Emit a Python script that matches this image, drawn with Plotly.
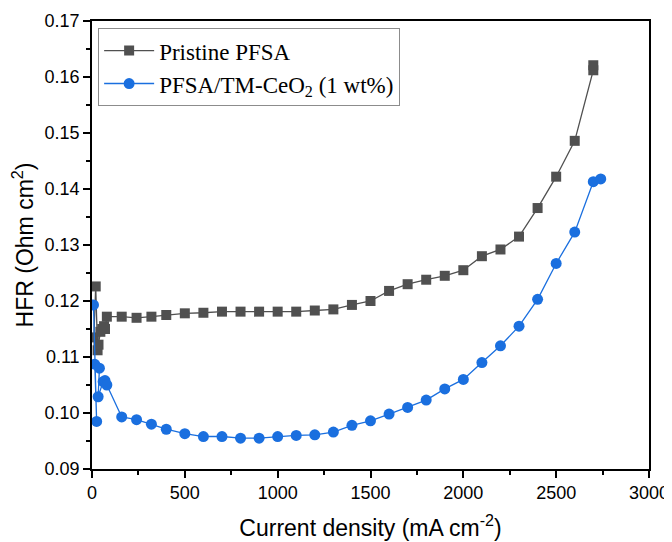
import plotly.graph_objects as go

# Pristine PFSA
x_pristine = [10, 20, 30, 35, 45, 55, 65, 70, 80, 160, 240, 320, 400, 500, 600, 700, 800, 900,
              1000, 1100, 1200, 1300, 1400, 1500, 1600, 1700, 1800, 1900, 2000, 2100, 2200,
              2300, 2400, 2500, 2600, 2700, 2700]
y_pristine = [0.1135, 0.1226, 0.1112, 0.1122, 0.1145, 0.1150, 0.1155, 0.1150, 0.1172, 0.1172,
              0.1170, 0.1172, 0.1175, 0.1178, 0.1179, 0.1181, 0.1181, 0.1181, 0.1181, 0.1181,
              0.1183, 0.1185, 0.1193, 0.1200, 0.1218, 0.1230, 0.1238, 0.1245, 0.1255, 0.1280,
              0.1292, 0.1315, 0.1366, 0.1422, 0.1486, 0.1612, 0.1621]

# PFSA/TM-CeO2 (1 wt%)
x_ceo2 = [8, 25, 15, 40, 33, 60, 70, 80, 160, 240, 320, 400, 500, 600, 700, 800, 900, 1000,
          1100, 1200, 1300, 1400, 1500, 1600, 1700, 1800, 1900, 2000, 2100, 2200, 2300, 2400,
          2500, 2600, 2700, 2740]
y_ceo2 = [0.1193, 0.0985, 0.1087, 0.1080, 0.1029, 0.1056, 0.1058, 0.1050, 0.0993, 0.0988,
          0.0980, 0.0971, 0.0963, 0.0958, 0.0958, 0.0955, 0.0955, 0.0958, 0.0960, 0.0961,
          0.0966, 0.0978, 0.0986, 0.0998, 0.1010, 0.1023, 0.1043, 0.1060, 0.1090, 0.1120,
          0.1155, 0.1203, 0.1267, 0.1323, 0.1413, 0.1418]

x_ticks = [0, 500, 1000, 1500, 2000, 2500, 3000]
y_ticks = [0.09, 0.10, 0.11, 0.12, 0.13, 0.14, 0.15, 0.16, 0.17]
y_ticklabels = ["0.09", "0.10", "0.11", "0.12", "0.13", "0.14", "0.15", "0.16", "0.17"]

grey = "#505050"
blue = "#1a6fdf"

fig = go.Figure()
fig.add_trace(go.Scatter(
    x=x_pristine, y=y_pristine, mode="lines+markers", name="Pristine PFSA",
    line=dict(color=grey, width=1.3),
    marker=dict(symbol="square", size=10, color=grey),
))
fig.add_trace(go.Scatter(
    x=x_ceo2, y=y_ceo2, mode="lines+markers", name="PFSA/TM-CeO<sub>2</sub> (1 wt%)",
    line=dict(color=blue, width=1.3),
    marker=dict(symbol="circle", size=11, color=blue),
))

axis_font = dict(family="Liberation Sans, Arial, sans-serif", size=18, color="black")
title_font = dict(family="Liberation Sans, Arial, sans-serif", size=23, color="black")

# page body has an 8px default margin, so the figure is 8px smaller than the window
fig.update_layout(
    width=664, height=534,
    margin=dict(l=84, r=23, t=13, b=73),
    paper_bgcolor="white", plot_bgcolor="white",
    showlegend=True,
    legend=dict(
        x=0.011, y=0.984, xanchor="left", yanchor="top",
        bgcolor="white", bordercolor="#8c8c8c", borderwidth=1,
        font=dict(family="Liberation Serif, Times New Roman, serif", size=23, color="black"),
        tracegroupgap=0, itemsizing="trace", itemwidth=50,
    ),
    xaxis=dict(
        range=[0, 3000], tickmode="array", tickvals=x_ticks, automargin=False,
        ticks="outside", ticklen=7, tickwidth=1.5, tickcolor="black",
        minor=dict(dtick=250, ticks="outside", ticklen=4, tickwidth=1.5, tickcolor="black", showgrid=False),
        showline=True, linecolor="black", linewidth=1.6, mirror=True,
        showgrid=False, zeroline=False, tickfont=axis_font,
        title=dict(text="Current density (mA cm<sup>-2</sup>)", font=title_font, standoff=17),
    ),
    yaxis=dict(
        range=[0.09, 0.17], tickmode="array", tickvals=y_ticks, ticktext=y_ticklabels, automargin=False,
        ticks="outside", ticklen=7, tickwidth=1.5, tickcolor="black",
        minor=dict(dtick=0.005, tick0=0.09, ticks="outside", ticklen=4, tickwidth=1.5, tickcolor="black", showgrid=False),
        showline=True, linecolor="black", linewidth=1.6, mirror=True,
        showgrid=False, zeroline=False, tickfont=axis_font,
        title=dict(text="HFR (Ohm cm<sup>2</sup>)", font=title_font, standoff=10),
    ),
)

fig.write_html("out.html")
